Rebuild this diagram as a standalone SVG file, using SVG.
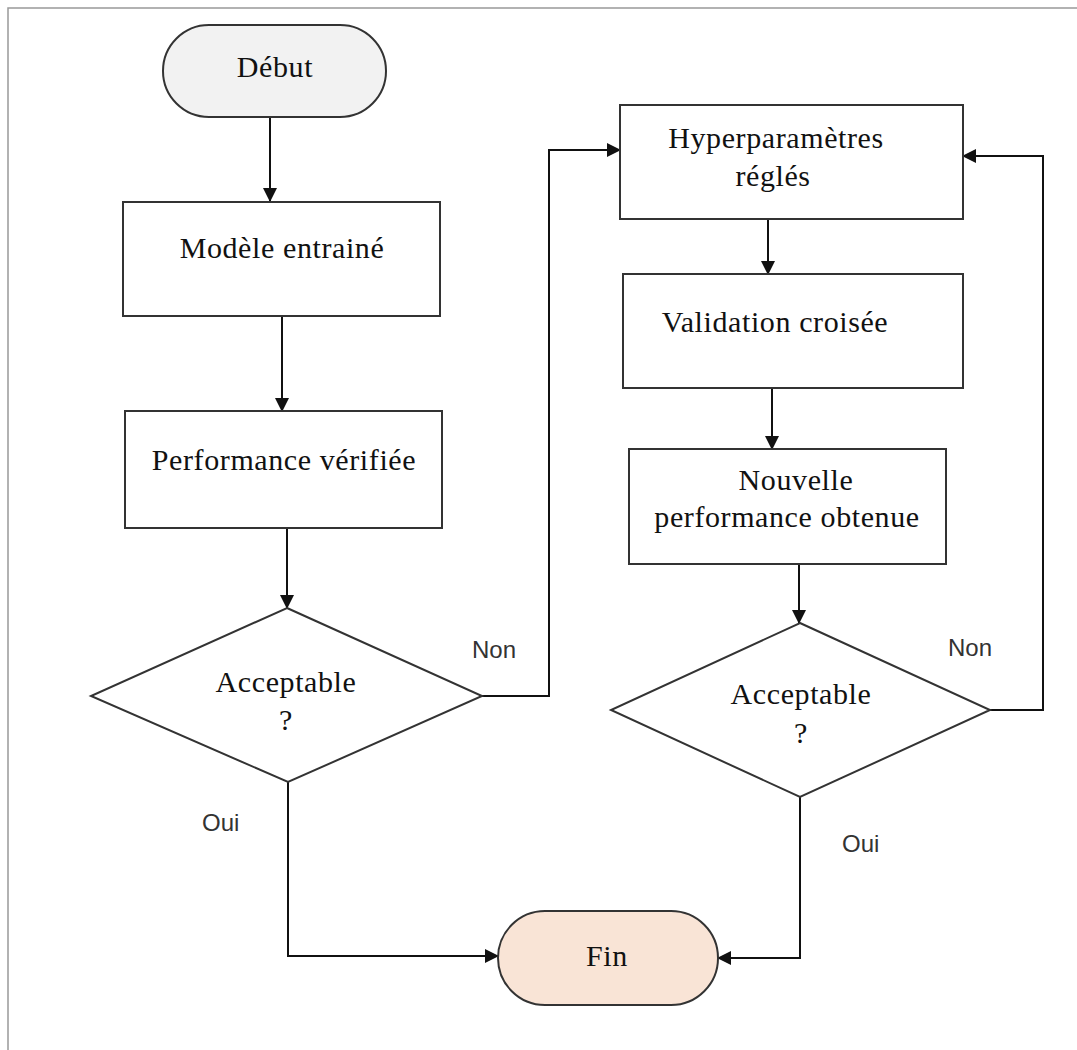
<svg xmlns="http://www.w3.org/2000/svg" width="1077" height="1050" viewBox="0 0 1077 1050">
  <style>
    .box { fill: #ffffff; stroke: #333333; stroke-width: 2; }
    .term { stroke: #333333; stroke-width: 2; }
    .t { font-family: "Liberation Serif", "Times New Roman", serif; font-size: 30px; fill: #111111; text-anchor: middle; letter-spacing: 0.6px; }
    .lbl { font-family: "Liberation Sans", Arial, sans-serif; font-size: 24px; fill: #333333; }
    .edge { fill: none; stroke: #111111; stroke-width: 2; }
  </style>
  <defs>
    <marker id="arrow" markerUnits="userSpaceOnUse" markerWidth="14" markerHeight="14" viewBox="0 0 14 14" refX="13" refY="7" orient="auto">
      <path d="M0,0 L14,7 L0,14 Z" fill="#111111"/>
    </marker>
  </defs>

  <rect width="1077" height="1050" fill="#ffffff"/>
  <!-- page frame (top and left edges) -->
  <path d="M8,1050 V8 H1077" fill="none" stroke="#999999" stroke-width="1.5"/>

  <g id="connectors">
    <path class="edge" d="M270,117 V201" marker-end="url(#arrow)"/>
    <path class="edge" d="M282,316 V411" marker-end="url(#arrow)"/>
    <path class="edge" d="M287,528 V608" marker-end="url(#arrow)"/>
    <path class="edge" d="M482,696 H549 V150 H620" marker-end="url(#arrow)"/>
    <path class="edge" d="M288,782 V956 H498" marker-end="url(#arrow)"/>
    <path class="edge" d="M768,219 V274" marker-end="url(#arrow)"/>
    <path class="edge" d="M772,388 V449" marker-end="url(#arrow)"/>
    <path class="edge" d="M799,564 V623" marker-end="url(#arrow)"/>
    <path class="edge" d="M990,710 H1043 V156 H963" marker-end="url(#arrow)"/>
    <path class="edge" d="M800,797 V958 H718" marker-end="url(#arrow)"/>
    <text class="lbl" x="472" y="658">Non</text>
    <text class="lbl" x="202" y="831">Oui</text>
    <text class="lbl" x="948" y="656">Non</text>
    <text class="lbl" x="842" y="852">Oui</text>
  </g>

  <g id="debut">
    <rect class="term" x="163" y="25" width="223" height="92" rx="46" fill="#f2f2f2"/>
    <text class="t" x="275" y="77">Début</text>
  </g>

  <g id="modele">
    <rect class="box" x="123" y="202" width="317" height="114"/>
    <text class="t" x="282" y="258">Modèle entrainé</text>
  </g>

  <g id="performance">
    <rect class="box" x="125" y="411" width="317" height="117"/>
    <text class="t" x="284" y="470">Performance vérifiée</text>
  </g>

  <g id="decision1">
    <polygon class="box" points="287,608 482,696 288,782 91,696"/>
    <text class="t" x="286" y="692">Acceptable</text>
    <text class="t" x="286" y="730">?</text>
  </g>

  <g id="hyperparametres">
    <rect class="box" x="620" y="105" width="343" height="114"/>
    <text class="t" x="776" y="148">Hyperparamètres</text>
    <text class="t" x="773" y="186">réglés</text>
  </g>

  <g id="validation">
    <rect class="box" x="623" y="274" width="340" height="114"/>
    <text class="t" x="775" y="332">Validation croisée</text>
  </g>

  <g id="nouvelle">
    <rect class="box" x="629" y="449" width="317" height="115"/>
    <text class="t" x="796" y="490">Nouvelle</text>
    <text class="t" x="787" y="527">performance obtenue</text>
  </g>

  <g id="decision2">
    <polygon class="box" points="800,623 990,710 800,797 611,710"/>
    <text class="t" x="801" y="704">Acceptable</text>
    <text class="t" x="801" y="743">?</text>
  </g>

  <g id="fin">
    <rect class="term" x="498" y="911" width="220" height="94" rx="47" fill="#f9e4d6"/>
    <text class="t" x="607" y="966">Fin</text>
  </g>
</svg>
